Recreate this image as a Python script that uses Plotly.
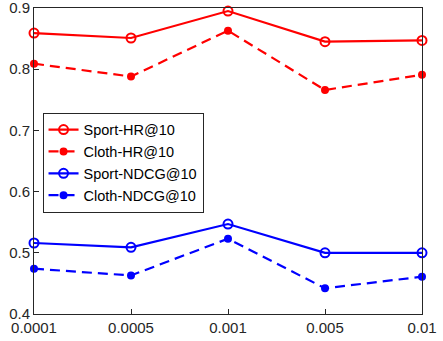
import plotly.graph_objects as go

lr = ['0.0001', '0.0005', '0.001', '0.005', '0.01']

sport_hr = [0.859, 0.851, 0.895, 0.845, 0.847]
cloth_hr = [0.809, 0.788, 0.863, 0.766, 0.791]
sport_ndcg = [0.516, 0.509, 0.547, 0.500, 0.500]
cloth_ndcg = [0.474, 0.463, 0.523, 0.442, 0.461]

RED = '#ff0000'
BLUE = '#0000ff'

fig = go.Figure()

def add_line(y, name, color, dash, symbol, size):
    fig.add_trace(go.Scatter(x=lr, y=y, name=name, mode='lines+markers',
                             line=dict(color=color, width=2.2, dash=dash),
                             marker=dict(color=color, symbol=symbol, size=size,
                                         line=dict(color=color, width=2)),
                             cliponaxis=False))

add_line(sport_hr, 'Sport-HR@10', RED, 'solid', 'circle-open', 9)
add_line(cloth_hr, 'Cloth-HR@10', RED, '10px,6px', 'circle', 6)
add_line(sport_ndcg, 'Sport-NDCG@10', BLUE, 'solid', 'circle-open', 9)
add_line(cloth_ndcg, 'Cloth-NDCG@10', BLUE, '10px,6px', 'circle', 6)

axis_common = dict(showline=True, linecolor='#262626', linewidth=1, mirror=True,
                   ticks='inside', ticklen=5, tickcolor='#262626',
                   showgrid=False, zeroline=False, automargin=False,
                   ticklabeloverflow='allow',
                   tickfont=dict(family='Liberation Sans, Arial', size=15, color='#262626'))

fig.update_xaxes(type='category', range=[0, 4], **axis_common)
fig.update_yaxes(range=[0.4, 0.9], tickvals=[0.4, 0.5, 0.6, 0.7, 0.8, 0.9],
                 ticktext=['0.4', '0.5', '0.6', '0.7', '0.8', '0.9'], **axis_common)

fig.update_layout(
    width=443, height=341,
    margin=dict(l=34, r=21, t=8, b=27),
    plot_bgcolor='white', paper_bgcolor='white',
    font=dict(family='Liberation Sans, Arial', size=15, color='#000000'),
    legend=dict(x=0.022, y=0.658, xanchor='left', yanchor='top',
                bgcolor='white', bordercolor='#262626', borderwidth=1,
                font=dict(size=14.5), tracegroupgap=0, itemwidth=30),
    showlegend=True,
)

# page body has an 8px default margin; drop it so the figure sits at 0,0
fig.write_html("out.html", config={'displayModeBar': False},
               post_script="document.body.style.margin='0px';")
